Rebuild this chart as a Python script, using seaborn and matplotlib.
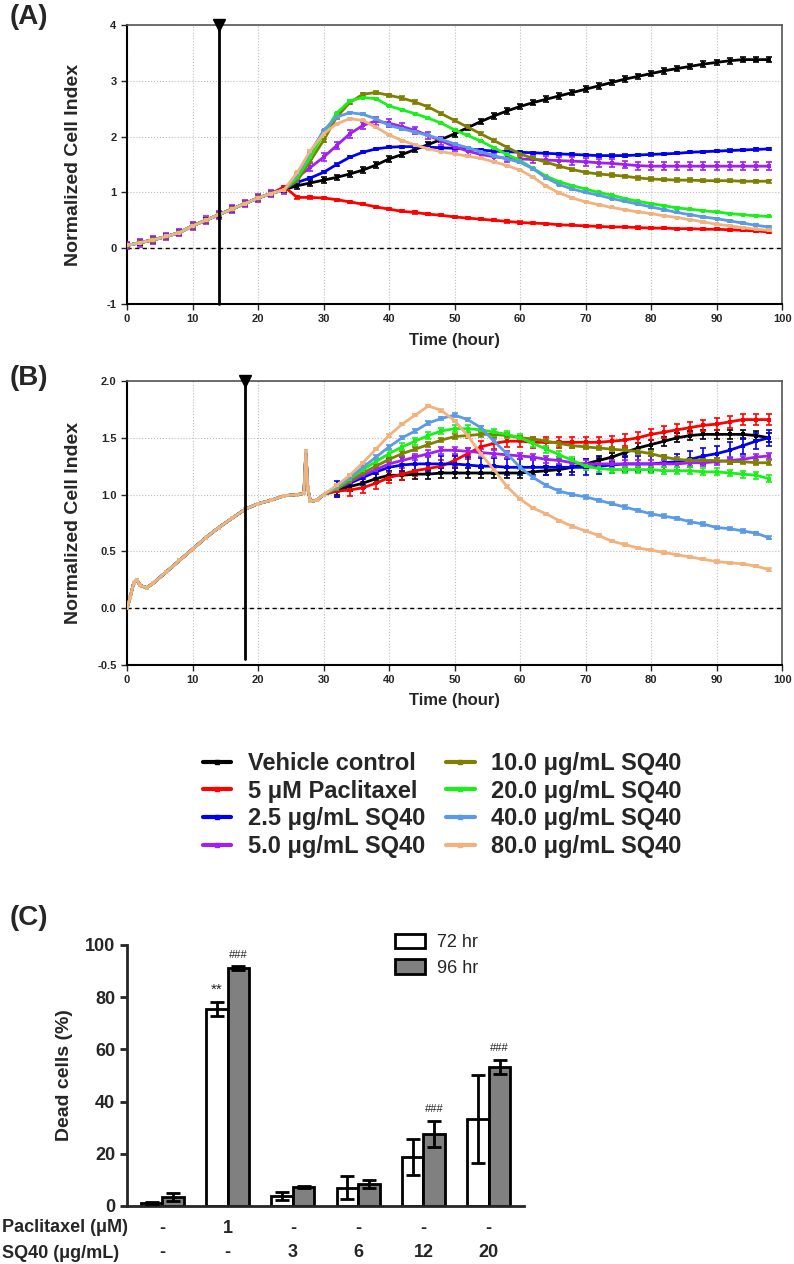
import matplotlib
matplotlib.use("Agg")
import matplotlib.pyplot as plt
from matplotlib.lines import Line2D
from matplotlib.patches import Patch
from matplotlib.ticker import FormatStrFormatter
import pandas as pd
import seaborn as sns

# Treatment groups and colours
SERIES = [
    "Vehicle control",
    "5 μM Paclitaxel",
    "2.5 μg/mL SQ40",
    "5.0 μg/mL SQ40",
    "10.0 μg/mL SQ40",
    "20.0 μg/mL SQ40",
    "40.0 μg/mL SQ40",
    "80.0 μg/mL SQ40",
]
COLORS = ["#000000", "#ff0000", "#0000ee", "#a020f0",
          "#808000", "#19f019", "#5b9be6", "#f2b27e"]

# Panel A - cell index (time in hours)
ADD_TIME_A = 14
TIME_A_PRE = [0, 2, 4, 6, 8, 10, 12, 14, 16, 18, 20, 22]
CI_A_PRE = [0.05, 0.10, 0.15, 0.21, 0.28, 0.40, 0.50, 0.60, 0.70, 0.80, 0.90, 0.98]
TIME_A_POST = [24, 26, 28, 30, 32, 34, 36, 38, 40, 42, 44, 46, 48, 50, 52, 54, 56, 58, 60,
               62, 64, 66, 68, 70, 72, 74, 76, 78, 80, 82, 84, 86, 88, 90, 92, 94, 96, 98]
A_VEHICLE = [1.05, 1.12, 1.17, 1.22, 1.27, 1.33, 1.40, 1.49, 1.60, 1.68, 1.77, 1.86, 1.95,
             2.05, 2.16, 2.27, 2.37, 2.46, 2.54, 2.61, 2.67, 2.73, 2.79, 2.85, 2.91, 2.97,
             3.03, 3.08, 3.13, 3.18, 3.22, 3.26, 3.30, 3.33, 3.36, 3.38, 3.38, 3.38]
A_PACLI = [1.10, 0.91, 0.91, 0.90, 0.87, 0.83, 0.79, 0.74, 0.70, 0.66, 0.64, 0.61, 0.59,
           0.56, 0.54, 0.52, 0.50, 0.48, 0.46, 0.45, 0.44, 0.42, 0.41, 0.40, 0.39, 0.38,
           0.38, 0.37, 0.36, 0.36, 0.35, 0.35, 0.34, 0.34, 0.33, 0.32, 0.31, 0.29]
A_SQ2_5 = [1.05, 1.18, 1.26, 1.36, 1.50, 1.63, 1.72, 1.78, 1.81, 1.82, 1.82, 1.81, 1.80,
           1.79, 1.78, 1.76, 1.74, 1.73, 1.72, 1.71, 1.70, 1.69, 1.68, 1.67, 1.66, 1.66,
           1.66, 1.67, 1.68, 1.69, 1.70, 1.72, 1.73, 1.74, 1.75, 1.76, 1.77, 1.78]
A_SQ5 = [1.05, 1.27, 1.45, 1.63, 1.84, 2.05, 2.20, 2.28, 2.24, 2.18, 2.11, 2.02, 1.92,
         1.82, 1.74, 1.68, 1.64, 1.61, 1.60, 1.59, 1.58, 1.57, 1.56, 1.55, 1.53, 1.52,
         1.50, 1.48, 1.47, 1.47, 1.47, 1.47, 1.47, 1.47, 1.47, 1.47, 1.47, 1.47]
A_SQ10 = [1.05, 1.21, 1.57, 1.93, 2.35, 2.61, 2.76, 2.79, 2.74, 2.69, 2.62, 2.53, 2.41,
          2.29, 2.17, 2.05, 1.93, 1.81, 1.69, 1.61, 1.54, 1.47, 1.41, 1.36, 1.33, 1.31,
          1.29, 1.26, 1.24, 1.23, 1.22, 1.22, 1.21, 1.21, 1.21, 1.20, 1.20, 1.20]
A_SQ20 = [1.05, 1.27, 1.63, 2.05, 2.42, 2.64, 2.70, 2.68, 2.55, 2.48, 2.41, 2.33, 2.24,
          2.12, 2.02, 1.92, 1.80, 1.68, 1.57, 1.43, 1.29, 1.19, 1.12, 1.06, 1.00, 0.95,
          0.89, 0.84, 0.80, 0.76, 0.72, 0.70, 0.67, 0.65, 0.62, 0.60, 0.58, 0.57]
A_SQ40 = [1.05, 1.33, 1.72, 2.11, 2.35, 2.43, 2.40, 2.32, 2.20, 2.14, 2.08, 2.02, 1.95,
          1.87, 1.80, 1.73, 1.66, 1.60, 1.54, 1.42, 1.26, 1.14, 1.06, 1.00, 0.95, 0.89,
          0.84, 0.79, 0.74, 0.69, 0.64, 0.60, 0.56, 0.53, 0.49, 0.45, 0.41, 0.38]
A_SQ80 = [1.05, 1.36, 1.75, 2.05, 2.23, 2.32, 2.29, 2.17, 2.03, 1.93, 1.85, 1.78, 1.73,
          1.69, 1.65, 1.61, 1.55, 1.48, 1.40, 1.27, 1.11, 0.99, 0.90, 0.83, 0.78, 0.73,
          0.69, 0.65, 0.62, 0.58, 0.55, 0.51, 0.47, 0.43, 0.40, 0.37, 0.34, 0.32]
ERR_A = [0.05, 0.02, 0.02, 0.07, 0.03, 0.01, 0.015, 0.01]

# Panel B - cell index (time in hours)
ADD_TIME_B = 18
TIME_B_PRE = [0, 0.5, 1, 1.5, 2, 3, 4, 6, 8, 10, 12, 14, 16, 18, 20, 22, 24, 26,
              27, 27.3, 27.6, 28, 29, 30]
CI_B_PRE = [0.0, 0.10, 0.22, 0.25, 0.20, 0.18, 0.22, 0.32, 0.42, 0.52, 0.62, 0.71,
            0.79, 0.87, 0.92, 0.95, 0.99, 1.00, 1.01, 1.38, 1.05, 0.94, 0.95, 1.00]
TIME_B_POST = [32, 34, 36, 38, 40, 42, 44, 46, 48, 50, 52, 54, 56, 58, 60, 62, 64,
               66, 68, 70, 72, 74, 76, 78, 80, 82, 84, 86, 88, 90, 92, 94, 96, 98]
B_VEHICLE = [1.04, 1.07, 1.10, 1.14, 1.17, 1.17, 1.18, 1.18, 1.19, 1.19, 1.19, 1.19,
             1.19, 1.19, 1.19, 1.20, 1.21, 1.22, 1.24, 1.27, 1.30, 1.33, 1.37, 1.41,
             1.44, 1.47, 1.50, 1.52, 1.53, 1.53, 1.53, 1.53, 1.52, 1.50]
B_PACLI = [1.03, 1.04, 1.06, 1.10, 1.15, 1.18, 1.21, 1.23, 1.25, 1.30, 1.36, 1.42,
           1.45, 1.47, 1.47, 1.46, 1.46, 1.46, 1.46, 1.46, 1.46, 1.47, 1.48, 1.50,
           1.53, 1.55, 1.57, 1.59, 1.61, 1.62, 1.64, 1.66, 1.66, 1.66]
B_SQ2_5 = [1.05, 1.10, 1.15, 1.20, 1.24, 1.26, 1.27, 1.27, 1.27, 1.27, 1.26, 1.25,
           1.25, 1.24, 1.24, 1.24, 1.24, 1.24, 1.24, 1.24, 1.25, 1.26, 1.27, 1.27,
           1.27, 1.28, 1.29, 1.31, 1.34, 1.36, 1.39, 1.43, 1.47, 1.50]
B_SQ5 = [1.05, 1.11, 1.17, 1.22, 1.27, 1.30, 1.33, 1.36, 1.39, 1.39, 1.38, 1.37,
         1.36, 1.35, 1.34, 1.33, 1.31, 1.30, 1.28, 1.27, 1.27, 1.27, 1.27, 1.27,
         1.27, 1.27, 1.27, 1.28, 1.28, 1.29, 1.30, 1.31, 1.33, 1.34]
B_SQ10 = [1.05, 1.12, 1.19, 1.25, 1.31, 1.36, 1.40, 1.44, 1.48, 1.51, 1.52, 1.53,
          1.53, 1.52, 1.50, 1.49, 1.47, 1.45, 1.43, 1.42, 1.41, 1.40, 1.39, 1.38,
          1.36, 1.33, 1.31, 1.30, 1.30, 1.30, 1.29, 1.29, 1.28, 1.28]
B_SQ20 = [1.06, 1.14, 1.22, 1.29, 1.36, 1.42, 1.47, 1.52, 1.56, 1.58, 1.58, 1.57,
          1.55, 1.53, 1.50, 1.45, 1.40, 1.35, 1.30, 1.25, 1.23, 1.22, 1.22, 1.22,
          1.22, 1.21, 1.21, 1.21, 1.20, 1.20, 1.19, 1.18, 1.17, 1.14]
B_SQ40 = [1.07, 1.15, 1.24, 1.33, 1.42, 1.50, 1.56, 1.63, 1.67, 1.70, 1.66, 1.59,
          1.47, 1.36, 1.24, 1.15, 1.08, 1.03, 1.00, 0.98, 0.95, 0.92, 0.89, 0.86,
          0.83, 0.81, 0.79, 0.76, 0.74, 0.71, 0.70, 0.68, 0.66, 0.62]
B_SQ80 = [1.08, 1.17, 1.28, 1.40, 1.52, 1.62, 1.70, 1.78, 1.74, 1.65, 1.52, 1.36,
          1.22, 1.07, 0.96, 0.88, 0.83, 0.77, 0.72, 0.68, 0.64, 0.59, 0.56, 0.53,
          0.51, 0.49, 0.47, 0.45, 0.43, 0.41, 0.40, 0.39, 0.37, 0.34]
ERR_B = [0.04, 0.05, 0.07, 0.03, 0.02, 0.03, 0.015, 0.01]

# Panel C - dead cells (%)
PACLITAXEL_ROW = ["-", "1", "-", "-", "-", "-"]
SQ40_ROW = ["-", "-", "3", "6", "12", "20"]
TIMEPOINTS = ["72 hr", "96 hr"]
DEAD_72 = [1.0, 75.5, 3.8, 7.0, 18.8, 33.3]
ERR_72 = [0.4, 2.7, 1.5, 4.4, 6.8, 17.0]
DEAD_96 = [3.4, 91.2, 7.4, 8.4, 27.6, 53.3]
ERR_96 = [1.6, 0.6, 0.4, 1.6, 5.0, 2.7]
# (group index, timepoint, mark)
MARKS = [(1, "72 hr", "**"), (1, "96 hr", "###"), (4, "96 hr", "###"), (5, "96 hr", "###")]


def draw_kinetics(ax, time_pre, ci_pre, time_post, series_post, errs, pre_errors=True):
    rows = []
    for name, post in zip(SERIES, series_post):
        for t, v in zip(time_pre + time_post, ci_pre + post):
            rows.append({"time": t, "ci": v, "group": name})
    df = pd.DataFrame(rows)
    palette = dict(zip(SERIES, COLORS))

    # Error caps first, then the lines
    t_start = time_pre[0] if pre_errors else time_post[0]
    for name, err in zip(SERIES, errs):
        sub = df[(df["group"] == name) & (df["time"] >= t_start)]
        ax.errorbar(sub["time"], sub["ci"], yerr=err, fmt="none", ecolor=palette[name],
                    elinewidth=1.2, capsize=2.2, capthick=1.2, zorder=3)
    sns.lineplot(data=df, x="time", y="ci", hue="group", hue_order=SERIES, palette=palette,
                 estimator=None, sort=False, lw=2, marker="s", markersize=3,
                 markeredgewidth=0, legend=False, ax=ax, zorder=4)

    ax.axhline(0, color="black", lw=1, ls=(0, (3, 2.5)), zorder=2)
    ax.grid(True, ls=":", color="#bdbdbd", lw=0.8)
    ax.set_axisbelow(True)
    ax.set_xlim(0, 100)
    ax.set_xticks(range(0, 101, 10))
    ax.set_xlabel("Time (hour)", fontsize=12)
    ax.set_ylabel("Normalized Cell Index", fontsize=14)
    ax.tick_params(labelsize=8, length=4, width=1, direction="out")
    for side in ["top", "right"]:
        ax.spines[side].set_color("#555555")
        ax.spines[side].set_linewidth(1.2)
    for side in ["left", "bottom"]:
        ax.spines[side].set_color("black")
        ax.spines[side].set_linewidth(1.5)


def draw_addition(ax, t, y_low, y_top):
    ax.plot([t, t], [y_low, y_top], color="black", lw=2, zorder=6, clip_on=False)
    ax.plot([t], [y_top], marker="v", color="black", ms=9, zorder=7, clip_on=False)


def draw_dead_cells(fig, ax):
    groups = [str(i) for i in range(len(SQ40_ROW))]
    df = pd.DataFrame({
        "group": groups * 2,
        "dead": DEAD_72 + DEAD_96,
        "err": ERR_72 + ERR_96,
        "time": [TIMEPOINTS[0]] * len(groups) + [TIMEPOINTS[1]] * len(groups),
    })
    sns.barplot(data=df, x="group", y="dead", hue="time", hue_order=TIMEPOINTS,
                palette={"72 hr": "white", "96 hr": "#808080"}, width=0.66, gap=0,
                errorbar=None, edgecolor="black", linewidth=2, legend=False, ax=ax)

    centers = {}
    for tp, cont in zip(TIMEPOINTS, ax.containers):
        sub = df[df["time"] == tp]
        xs = [b.get_x() + b.get_width() / 2 for b in cont]
        centers[tp] = xs
        ax.errorbar(xs, sub["dead"], yerr=sub["err"], fmt="none", ecolor="black",
                    elinewidth=2, capsize=5, capthick=2, zorder=5)
    for gi, tp, mark in MARKS:
        sub = df[df["time"] == tp].reset_index(drop=True)
        y = sub.loc[gi, "dead"] + sub.loc[gi, "err"] + 4.5
        ax.text(centers[tp][gi], y, mark, ha="center", va="center",
                fontsize=11 if mark == "**" else 8, fontweight="normal")

    ax.set_xlim(-0.54, 5.54)
    ax.set_ylim(0, 100)
    ax.set_yticks(range(0, 101, 20))
    ax.set_xticks([])
    ax.set_xlabel("")
    ax.set_ylabel("Dead cells (%)", fontsize=14)
    ax.yaxis.set_label_coords(-0.135, 0.5)
    ax.tick_params(axis="y", labelsize=13, length=5, width=2)
    sns.despine(ax=ax)
    ax.spines["left"].set_linewidth(2)
    ax.spines["bottom"].set_linewidth(2)

    trans = ax.get_xaxis_transform()
    for i, (p, s) in enumerate(zip(PACLITAXEL_ROW, SQ40_ROW)):
        ax.text(i, -0.085, p, transform=trans, ha="center", va="center", fontsize=13)
        ax.text(i, -0.18, s, transform=trans, ha="center", va="center", fontsize=13)
    fig.text(0.002, 1 - 1228 / 1264, "Paclitaxel (μM)", ha="left", va="center", fontsize=13)
    fig.text(0.002, 1 - 1253 / 1264, "SQ40 (μg/mL)", ha="left", va="center", fontsize=13)

    handles = [Patch(facecolor="white", edgecolor="black", lw=2),
               Patch(facecolor="#808080", edgecolor="black", lw=2)]
    fig.legend(handles, TIMEPOINTS, loc="upper left", bbox_to_anchor=(0.497, 1 - 934 / 1264),
               frameon=False, handlelength=1.67, handleheight=0.83,
               labelspacing=0.45, handletextpad=0.65, borderpad=0, borderaxespad=0,
               prop={"weight": "normal", "size": 13})


def main():
    sns.set_theme(style="ticks")
    plt.rcParams["font.family"] = ["Liberation Sans", "DejaVu Sans"]
    plt.rcParams["font.weight"] = "bold"
    plt.rcParams["axes.labelweight"] = "bold"
    plt.rcParams["axes.unicode_minus"] = False

    fig = plt.figure(figsize=(7.94, 12.64), dpi=100)
    ax_a = fig.add_axes([0.16, 0.7595, 0.825, 0.2207])
    ax_b = fig.add_axes([0.16, 0.4739, 0.825, 0.2247])
    ax_c = fig.add_axes([0.16, 0.0459, 0.50, 0.2065])

    draw_kinetics(ax_a, TIME_A_PRE, CI_A_PRE, TIME_A_POST,
                  [A_VEHICLE, A_PACLI, A_SQ2_5, A_SQ5, A_SQ10, A_SQ20, A_SQ40, A_SQ80], ERR_A)
    ax_a.set_ylim(-1, 4)
    ax_a.set_yticks(range(-1, 5))
    draw_addition(ax_a, ADD_TIME_A, -1, 4)
    ax_a.yaxis.set_label_coords(-0.069, 0.5)
    ax_a.xaxis.set_label_coords(0.5, -0.105)

    draw_kinetics(ax_b, TIME_B_PRE, CI_B_PRE, TIME_B_POST,
                  [B_VEHICLE, B_PACLI, B_SQ2_5, B_SQ5, B_SQ10, B_SQ20, B_SQ40, B_SQ80], ERR_B,
                  pre_errors=False)
    ax_b.set_ylim(-0.5, 2.0)
    ax_b.set_yticks([-0.5, 0.0, 0.5, 1.0, 1.5, 2.0])
    ax_b.yaxis.set_major_formatter(FormatStrFormatter("%.1f"))
    draw_addition(ax_b, ADD_TIME_B, -0.45, 2.0)
    ax_b.yaxis.set_label_coords(-0.069, 0.5)
    ax_b.xaxis.set_label_coords(0.5, -0.1)

    handles = [Line2D([0], [0], color=c, lw=3, marker="s", ms=3.5) for c in COLORS]
    fig.legend(handles, SERIES, loc="center", bbox_to_anchor=(0.557, 1 - 805 / 1264),
               ncol=2, frameon=False, fontsize=17, handlelength=1.2, handletextpad=0.7,
               columnspacing=0.9, labelspacing=0.2, numpoints=1)

    draw_dead_cells(fig, ax_c)

    for label, y in [("(A)", 17), ("(B)", 378), ("(C)", 918)]:
        fig.text(0.012, 1 - y / 1264, label, fontsize=20, fontweight="bold", va="center")

    fig.savefig("out.png", dpi=100)


if __name__ == "__main__":
    main()
